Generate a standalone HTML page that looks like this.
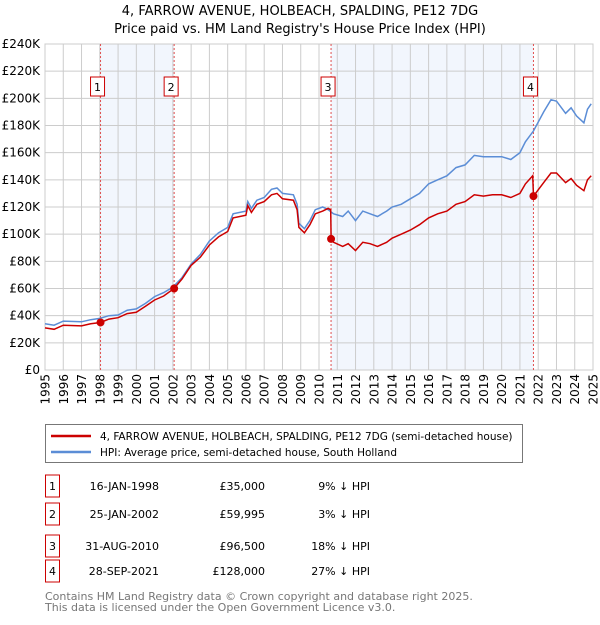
<!DOCTYPE html>
<html><head><meta charset="utf-8"><style>
body{margin:0;background:#fff;font-family:"Liberation Sans","DejaVu Sans",sans-serif;}
</style></head><body>
<svg width="600" height="620" xmlns="http://www.w3.org/2000/svg" font-family="DejaVu Sans, Liberation Sans, sans-serif">
<g id="titles">
<text x="300" y="15" text-anchor="middle" font-size="13">4, FARROW AVENUE, HOLBEACH, SPALDING, PE12 7DG</text>
<text x="300" y="33" text-anchor="middle" font-size="13">Price paid vs. HM Land Registry's House Price Index (HPI)</text>
</g>
<g id="plot"></g>
<g>
<rect x="45.5" y="424.5" width="477" height="38" fill="#fff" stroke="#777"/>
<line x1="51" y1="436" x2="91" y2="436" stroke="#cc0000" stroke-width="2.5"/>
<text x="100" y="440" font-size="10.5">4, FARROW AVENUE, HOLBEACH, SPALDING, PE12 7DG (semi-detached house)</text>
<line x1="51" y1="452" x2="91" y2="452" stroke="#5b8dd6" stroke-width="2.5"/>
<text x="100" y="456" font-size="10.5">HPI: Average price, semi-detached house, South Holland</text>
</g>
<g id="table" font-size="11"></g>
<text x="45" y="600" font-size="11" fill="#777">Contains HM Land Registry data © Crown copyright and database right 2025.</text>
<text x="45" y="611" font-size="11" fill="#777">This data is licensed under the Open Government Licence v3.0.</text>
</svg>
<script>
const yTicks=[0,20,40,60,80,100,120,140,160,180,200,220,240];
const xYears=[1995,1996,1997,1998,1999,2000,2001,2002,2003,2004,2005,2006,2007,2008,2009,2010,2011,2012,2013,2014,2015,2016,2017,2018,2019,2020,2021,2022,2023,2024,2025];
const hpiDates=[1995,1995.5,1996,1997,1997.5,1998,1998.5,1999,1999.5,2000,2000.5,2001,2001.5,2002,2002.5,2003,2003.5,2004,2004.5,2005,2005.3,2006,2006.1,2006.3,2006.6,2007,2007.4,2007.7,2008,2008.6,2008.8,2008.9,2009.2,2009.5,2009.8,2010.2,2010.5,2010.8,2011.3,2011.6,2012,2012.4,2012.8,2013.2,2013.7,2014,2014.5,2015,2015.5,2016,2016.5,2017,2017.5,2018,2018.5,2019,2019.5,2020,2020.5,2021,2021.3,2021.74,2022.3,2022.7,2023,2023.5,2023.8,2024.1,2024.5,2024.7,2024.9];
const hpiValues=[34,33,36,35.5,37,38,40,40.5,44,45,49,54,57,61,68,78,85,95,101,105,115,117,124,119,125,127,133,134,130,129,122,108,104,110,118,120,118,115,113,117,110,117,115,113,117,120,122,126,130,137,140,143,149,151,158,157,157,157,155,160,168,176,190,199,198,189,193,187,182,192,196];
const priceDates=[1995,1995.5,1996,1997,1997.5,1998.04,1998.5,1999,1999.5,2000,2000.5,2001,2001.5,2002.07,2002.5,2003,2003.5,2004,2004.5,2005,2005.3,2006,2006.1,2006.3,2006.6,2007,2007.4,2007.7,2008,2008.6,2008.8,2008.9,2009.2,2009.5,2009.8,2010.2,2010.5,2010.64,2010.66,2010.8,2011.3,2011.6,2012,2012.4,2012.8,2013.2,2013.7,2014,2014.5,2015,2015.5,2016,2016.5,2017,2017.5,2018,2018.5,2019,2019.5,2020,2020.5,2021,2021.3,2021.7,2021.74,2022.3,2022.7,2023,2023.5,2023.8,2024.1,2024.5,2024.7,2024.9];
const priceValues=[31,30,33,32.5,34,35,37.5,38.5,41.5,42.5,47,51.5,54.5,60,67,77,83,92,98,102,112,114,121,116,122,124,129,130,126,125,118,105,101,107,115,117,119,118,96.5,94,91,93,88,94,93,91,94,97,100,103,107,112,115,117,122,124,129,128,129,129,127,130,137,143,128,138,145,145,138,141,136,132,140,143];
const saleDates=[1998.04,2002.07,2010.66,2021.74];
const salePrices=[35,59.995,96.5,128];
const saleLabels=["1","2","3","4"];
const saleDateText=["16-JAN-1998","25-JAN-2002","31-AUG-2010","28-SEP-2021"];
const salePriceText=["£35,000","£59,995","£96,500","£128,000"];
const saleHpiText=["9% ↓ HPI","3% ↓ HPI","18% ↓ HPI","27% ↓ HPI"];

const NS="http://www.w3.org/2000/svg";
const L=45,R=593,T=44,B=370;
const X=d=>L+(d-1995)/30*(R-L);
const Y=v=>B-v/240*(B-T);
const plot=document.getElementById('plot');
function mk(tag,attrs,parent){const e=document.createElementNS(NS,tag);for(const k in attrs)e.setAttribute(k,attrs[k]);(parent||plot).appendChild(e);return e;}
for(let i=0;i<saleDates.length;i+=2){
 const r=mk('rect',{x:X(saleDates[i]),y:T,width:X(saleDates[i+1])-X(saleDates[i]),height:B-T,fill:'#eef3fc',opacity:0.75});
 
 
}
yTicks.forEach(v=>{
 const l=mk('line',{x1:L,x2:R,y1:Y(v),y2:Y(v),stroke:'#cccccc'});
 
 
 const t=mk('text',{x:40,y:Y(v)+4,'text-anchor':'end','font-size':12});
 t.textContent=v===0?'£0':'£'+v+'K';
 
 
});
xYears.forEach(yr=>{
 const l=mk('line',{x1:X(yr),x2:X(yr),y1:T,y2:B,stroke:'#cccccc'});
 
 
 const t=mk('text',{x:0,y:0,'text-anchor':'end','font-size':12,transform:`translate(${X(yr)+4.5},374) rotate(-90)`});
 t.textContent=yr;
 
 
});
const fr=mk('rect',{x:L,y:T,width:R-L,height:B-T,fill:'none',stroke:'#cccccc'});


saleDates.forEach(d=>{
 const l=mk('line',{x1:X(d),x2:X(d),y1:T,y2:B,stroke:'#e05050','stroke-dasharray':'2,2','stroke-width':1});
 
 
});
function path(ds,vs){return ds.map((d,i)=>(i?'L':'M')+X(d).toFixed(1)+','+Y(vs[i]).toFixed(1)).join('');}
const hp=mk('path',{d:path(hpiDates,hpiValues),fill:'none',stroke:'#5b8dd6','stroke-width':1.5});


const pp=mk('path',{d:path(priceDates,priceValues),fill:'none',stroke:'#cc0000','stroke-width':1.5});


saleDates.forEach((d,i)=>{
 const c=mk('circle',{cx:X(d),cy:Y(salePrices[i]),r:4,fill:'#cc0000'});
 
 
 const g=mk('g',{});
 
 
 mk('rect',{x:X(d)-10,y:77,width:14,height:19,fill:'#fff',stroke:'#cc0000'},g);
 const t=mk('text',{x:X(d)-3,y:91,'text-anchor':'middle','font-size':11},g);
 t.textContent=saleLabels[i];
});
const tbl=document.getElementById('table');
const rowsY=[489,517,549,577];
saleLabels.forEach((s,i)=>{
 const g=mk('g',{},tbl);
 
 
 const y=rowsY[i]-(i===3?3:0);
 mk('rect',{x:45.5,y:y-14,width:14,height:22,fill:'#fff',stroke:'#cc0000'},g);
 let t=mk('text',{x:52.5,y:y+1,'text-anchor':'middle'},g);t.textContent=s;
 t=mk('text',{x:159,y:y+1,'text-anchor':'end'},g);t.textContent=saleDateText[i];
 t=mk('text',{x:265,y:y+1,'text-anchor':'end'},g);t.textContent=salePriceText[i];
 t=mk('text',{x:370,y:y+1,'text-anchor':'end'},g);t.textContent=saleHpiText[i];
});
</script>
</body></html>
